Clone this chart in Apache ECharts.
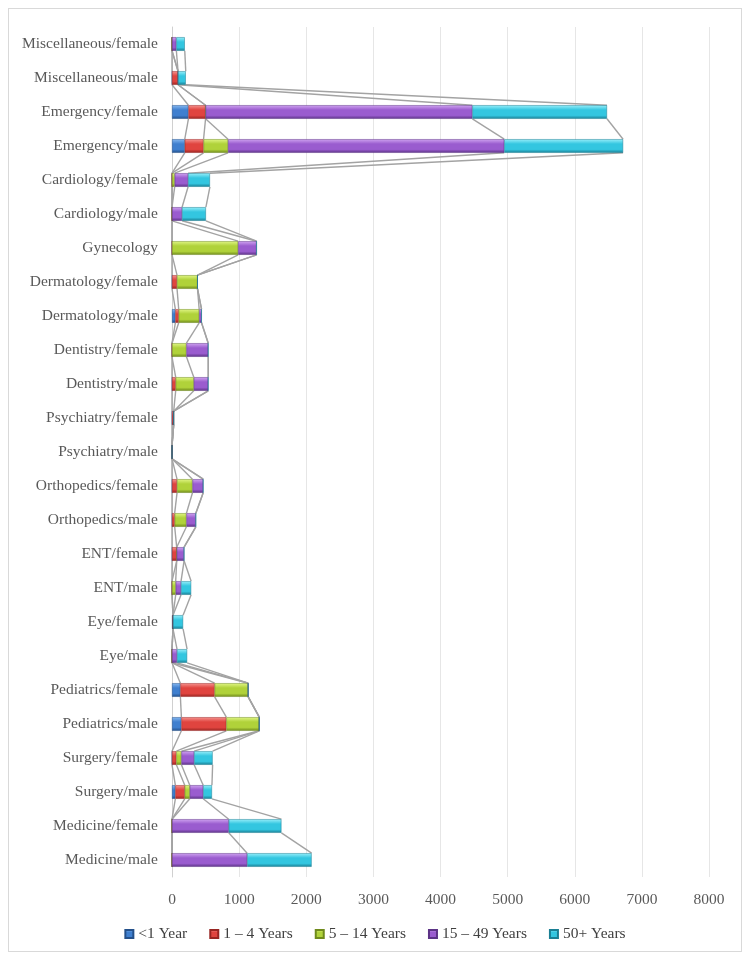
<!DOCTYPE html>
<html>
<head>
<meta charset="utf-8">
<script src="https://cdn.jsdelivr.net/npm/echarts@6/dist/echarts.min.js"></script>
<style>
html,body{margin:0;padding:0;background:#fff;}
#wrap{position:absolute;left:8px;top:8px;width:734px;height:944px;border:1px solid #d9d9d9;box-sizing:border-box;}
#chart{position:absolute;left:0;top:0;width:750px;height:959px;}
</style>
</head>
<body>
<div id="wrap"></div>
<div id="chart"></div>
<script>
var categories = ["Medicine/male","Medicine/female","Surgery/male","Surgery/female","Pediatrics/male","Pediatrics/female","Eye/male","Eye/female","ENT/male","ENT/female","Orthopedics/male","Orthopedics/female","Psychiatry/male","Psychiatry/female","Dentistry/male","Dentistry/female","Dermatology/male","Dermatology/female","Gynecology","Cardiology/male","Cardiology/female","Emergency/male","Emergency/female","Miscellaneous/male","Miscellaneous/female"];
var seriesNames = ["<1 Year","1 – 4 Years","5 – 14 Years","15 – 49 Years","50+ Years"];
var under1 = [0,0,50,0,140,125,0,15,0,0,0,0,0,0,0,0,50,0,0,0,0,190,245,0,0];
var y1to4 = [0,0,140,65,670,510,0,0,0,70,40,75,0,25,55,0,50,75,0,0,0,280,255,90,0];
var y5to14 = [0,0,75,75,490,500,0,0,55,0,175,230,0,0,270,215,305,305,985,0,40,365,0,0,0];
var y15to49 = [1120,845,200,190,0,0,75,0,80,110,140,160,0,0,215,325,35,0,275,150,200,4115,3975,0,65];
var y50plus = [960,785,130,275,0,0,150,150,150,0,0,0,0,0,0,0,0,0,0,355,325,1770,2005,115,125];
var xTicks = [0,1000,2000,3000,4000,5000,6000,7000,8000];

var allData = [under1, y1to4, y5to14, y15to49, y50plus];
var palettes = [
  ['#86b8f0','#3f7fcf','#24508a'],
  ['#f59490','#e0443f','#982522'],
  ['#e0f585','#b0d23a','#6f8a1c'],
  ['#cfa3f0','#9a5ccf','#5c3386'],
  ['#97eefa','#33c6e0','#1a7f94']
];
function grad(p){
  return new echarts.graphic.LinearGradient(0,0,0,1,[
    {offset:0,color:p[0]},{offset:0.35,color:p[1]},{offset:0.75,color:p[1]},{offset:1,color:p[2]}
  ]);
}
var BAR_FRAC = 0.40;
var series = [];
for (var k=0;k<5;k++){
  series.push({
    name: seriesNames[k], type:'bar', stack:'total', barWidth:(BAR_FRAC*100)+'%',
    data: allData[k], z:3,
    itemStyle:{color:grad(palettes[k]), borderColor:palettes[k][2], borderWidth:0.5},
    emphasis:{disabled:true}
  });
}
function cumAt(i,k){
  var s=0; for (var j=0;j<=k;j++) s+=allData[j][i]; return s;
}
var lineIdx = [];
for (var i=0;i<categories.length-1;i++) lineIdx.push([0,i]);
series.push({
  type:'custom', name:'serieslines', coordinateSystem:'cartesian2d', z:2, silent:true,
  encode:{x:0,y:1},
  data: lineIdx,
  renderItem:function(params, api){
    var i = api.value(1);
    var band = api.size([0,1])[1];
    var half = band*BAR_FRAC/2;
    var children=[];
    for (var k=0;k<5;k++){
      var a = api.coord([cumAt(i,k), i]);
      var b = api.coord([cumAt(i+1,k), i+1]);
      children.push({type:'line', shape:{x1:a[0],y1:a[1]-half,x2:b[0],y2:b[1]+half},
        style:{stroke:'#a3a3a3', lineWidth:1.4}});
    }
    return {type:'group', children:children};
  }
});
var chart = echarts.init(document.getElementById('chart'));
chart.setOption({
  animation:false,
  backgroundColor:'transparent',
  grid:{left:172, right:41, top:27, bottom:82, containLabel:false},
  legend:{
    data: seriesNames.map(function(n,k){return {name:n, itemStyle:{color:grad(palettes[k])}};}),
    bottom:12, left:'center', icon:'rect', itemWidth:8, itemHeight:8, itemGap:22,
    textStyle:{fontFamily:'Liberation Serif', fontSize:15.5, color:'#404040'}
  },
  xAxis:{
    type:'value', min:0, max:8000, interval:1000,
    axisLine:{show:false}, axisTick:{show:false},
    splitLine:{lineStyle:{color:'#e6e6e6'}},
    axisLabel:{fontFamily:'Liberation Serif', fontSize:15.5, color:'#595959', margin:15,
      formatter:function(v){return xTicks.indexOf(v)>=0 ? String(v) : '';}}
  },
  yAxis:{
    type:'category', data:categories,
    axisLine:{show:true, lineStyle:{color:'#d0d0d0'}}, axisTick:{show:false},
    axisLabel:{fontFamily:'Liberation Serif', fontSize:15.5, color:'#595959', margin:14}
  },
  series: series
});
</script>
</body>
</html>
